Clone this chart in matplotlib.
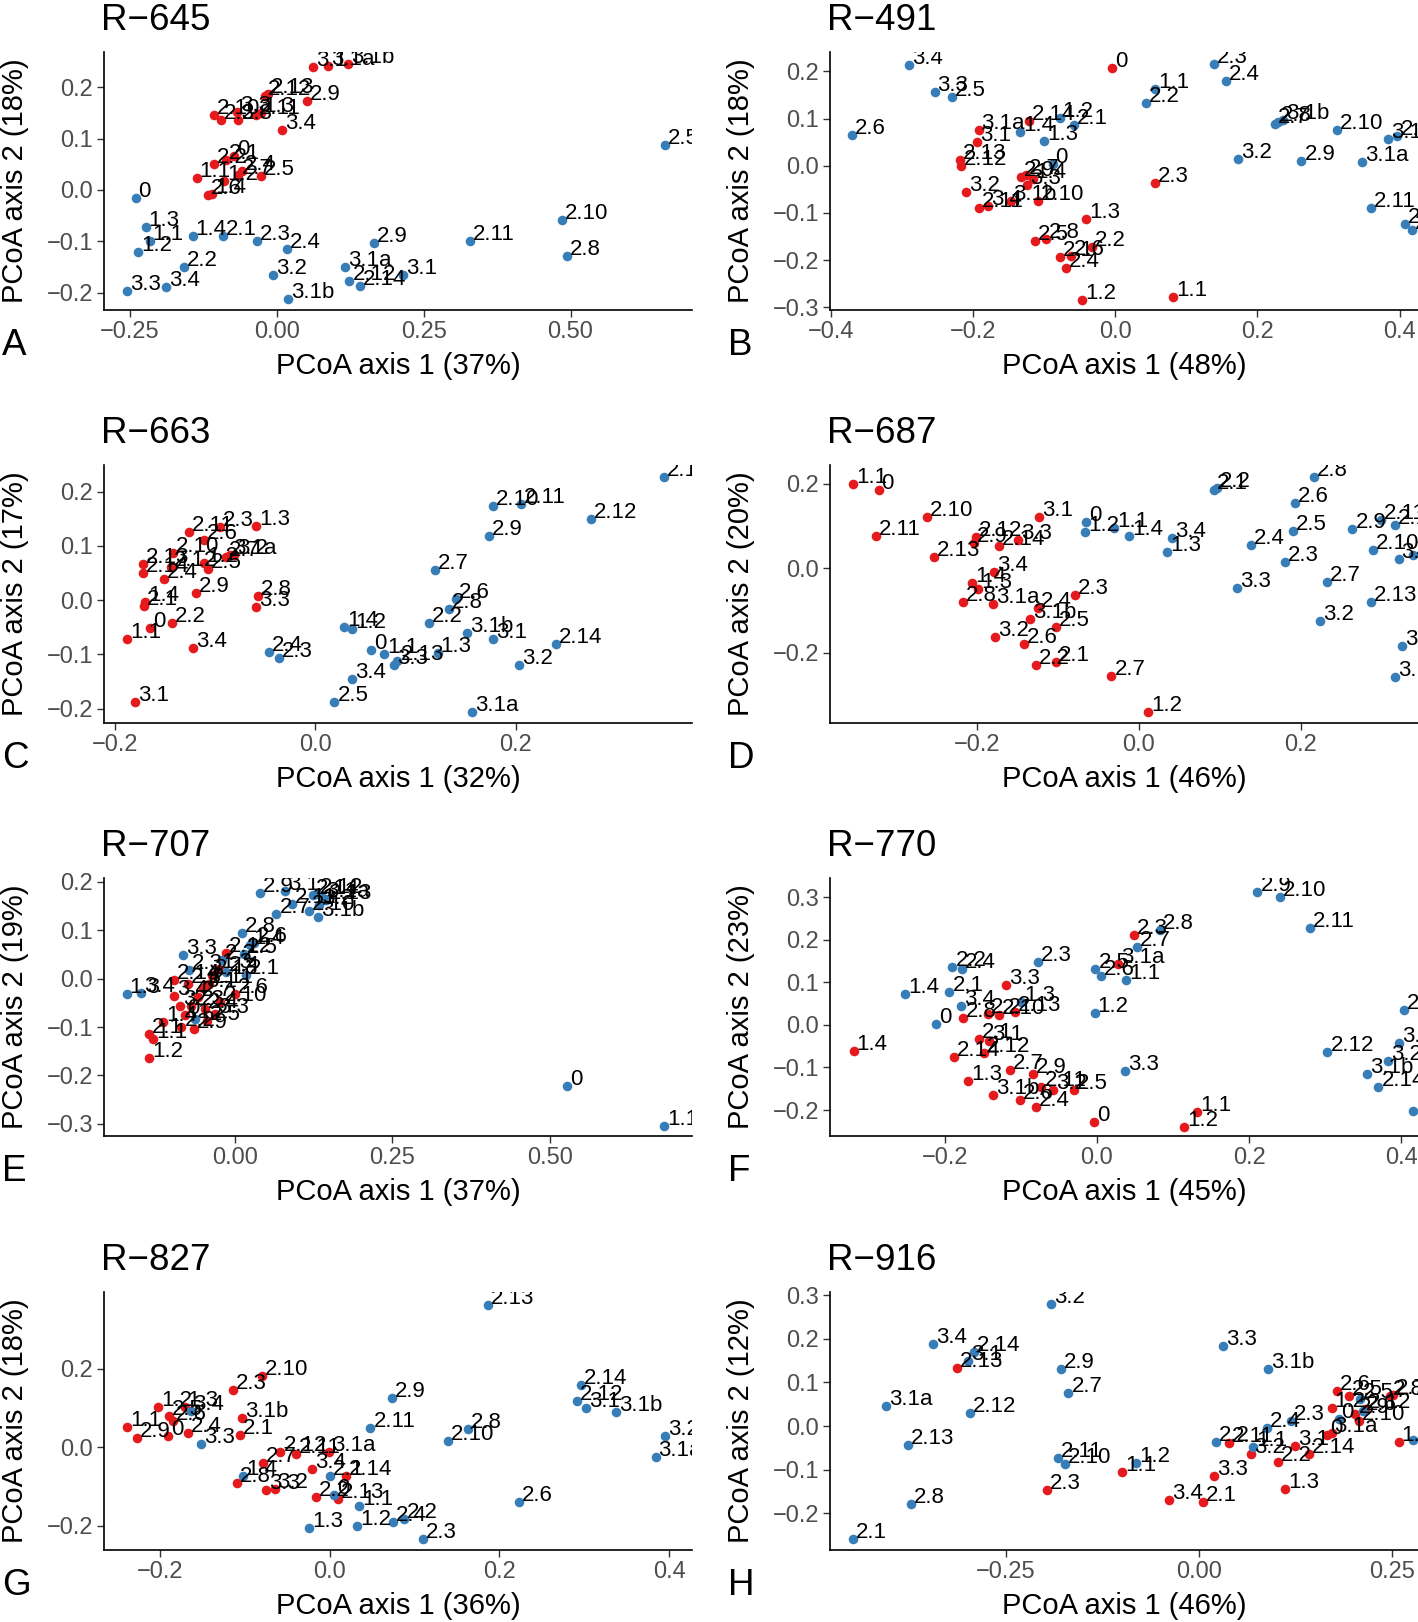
import matplotlib
matplotlib.use("Agg")
import matplotlib.pyplot as plt
from matplotlib.ticker import FixedLocator, FixedFormatter

plt.rcParams['font.family'] = ['Liberation Sans', 'DejaVu Sans']

RED = '#E41A1C'
BLUE = '#377EB8'

# ---------------- Panel A : R-645 ----------------
A_red_lab = ["3.1", "3.1a", "3.1b", "2.12", "2.13", "2.9", "3.4", "2.10", "2.3", "2.8", "3.3", "2.11", "1.3",
             "0", "2.2", "2.1", "1.1", "1.2", "2.4", "2.7", "2.5", "2.6", "1.4"]
A_red_x = [0.062, 0.087, 0.122, -0.020, -0.014, 0.052, 0.010, -0.106, -0.094, -0.065, -0.067, -0.035, -0.027,
           -0.072, -0.106, -0.086, -0.136, -0.089, -0.059, -0.065, -0.027, -0.117, -0.110]
A_red_y = [0.240, 0.242, 0.246, 0.182, 0.187, 0.173, 0.117, 0.145, 0.137, 0.136, 0.151, 0.145, 0.149,
           0.066, 0.051, 0.058, 0.024, 0.017, 0.037, 0.030, 0.028, -0.009, -0.007]
A_blue_lab = ["0", "1.3", "1.1", "1.2", "1.4", "2.1", "2.3", "2.4", "2.2", "3.3", "3.4", "3.2", "3.1b", "2.9",
              "3.1a", "2.12", "2.14", "3.1", "2.11", "2.10", "2.8", "2.5"]
A_blue_x = [-0.240, -0.223, -0.216, -0.235, -0.143, -0.092, -0.034, 0.017, -0.157, -0.255, -0.188, -0.006, 0.020,
            0.166, 0.117, 0.124, 0.142, 0.215, 0.329, 0.486, 0.494, 0.660]
A_blue_y = [-0.015, -0.073, -0.099, -0.121, -0.089, -0.089, -0.100, -0.114, -0.149, -0.196, -0.188, -0.165, -0.212,
            -0.104, -0.149, -0.177, -0.187, -0.165, -0.100, -0.058, -0.129, 0.087]

# ---------------- Panel B : R-491 ----------------
B_red_lab = ["0", "3.1a", "3.1", "2.14", "2.13", "2.12", "2.9", "2.7", "3.3", "1.4", "2.3", "3.2", "2.11", "3.4",
             "3.1b", "2.10", "1.3", "2.5", "2.8", "2.1", "2.6", "2.2", "2.4", "1.2", "1.1"]
B_red_x = [-0.004, -0.192, -0.194, -0.121, -0.218, -0.217, -0.133, -0.125, -0.124, -0.116, 0.056, -0.210, -0.191,
           -0.179, -0.147, -0.109, -0.041, -0.113, -0.097, -0.078, -0.062, -0.032, -0.069, -0.046, 0.082]
B_red_y = [0.208, 0.075, 0.051, 0.095, 0.013, 0.000, -0.023, -0.019, -0.040, -0.028, -0.037, -0.055, -0.090,
           -0.085, -0.075, -0.075, -0.112, -0.159, -0.155, -0.193, -0.191, -0.173, -0.216, -0.285, -0.278]
B_blue_lab = ["3.4", "3.3", "2.5", "2.6", "1.4", "1.2", "2.1", "1.3", "0", "1.1", "2.2", "2.3", "2.4", "2.7",
              "2.8", "3.1b", "2.10", "3.1", "2.14", "3.2", "2.9", "3.1a", "2.11", "2.13", "2.12"]
B_blue_x = [-0.290, -0.254, -0.229, -0.370, -0.134, -0.078, -0.058, -0.100, -0.088, 0.056, 0.043, 0.139, 0.156,
            0.225, 0.229, 0.236, 0.312, 0.384, 0.397, 0.173, 0.262, 0.347, 0.360, 0.408, 0.418]
B_blue_y = [0.214, 0.157, 0.146, 0.066, 0.072, 0.102, 0.086, 0.052, 0.003, 0.163, 0.132, 0.216, 0.179,
            0.089, 0.093, 0.098, 0.075, 0.056, 0.063, 0.015, 0.011, 0.008, -0.090, -0.123, -0.137]

# ---------------- Panel C : R-663 ----------------
C_red_lab = ["1.3", "2.3", "2.11", "2.6", "2.10", "2.7", "3.1a", "3.2", "1.2", "2.5", "2.13", "2.14", "2.12",
             "2.4", "2.9", "2.8", "3.3", "1.4", "2.1", "0", "2.2", "1.1", "3.4", "3.1"]
C_red_x = [-0.059, -0.095, -0.126, -0.111, -0.142, -0.089, -0.085, -0.081, -0.111, -0.107, -0.172, -0.172, -0.144,
           -0.151, -0.119, -0.057, -0.059, -0.170, -0.171, -0.165, -0.143, -0.188, -0.122, -0.180]
C_red_y = [0.137, 0.135, 0.126, 0.110, 0.087, 0.080, 0.083, 0.084, 0.069, 0.058, 0.067, 0.050, 0.061,
           0.039, 0.013, 0.008, -0.012, -0.004, -0.011, -0.052, -0.042, -0.072, -0.089, -0.187]
C_blue_lab = ["2.1", "2.10", "2.11", "2.12", "2.9", "2.7", "2.6", "2.8", "2.2", "3.1b", "3.1", "2.14", "3.2",
              "1.3", "1.4", "1.2", "0", "1.1", "3.3", "2.13", "3.4", "2.5", "3.1a", "2.4", "2.3"]
C_blue_x = [0.348, 0.177, 0.205, 0.275, 0.173, 0.119, 0.140, 0.133, 0.113, 0.151, 0.177, 0.240, 0.203,
            0.122, 0.029, 0.037, 0.056, 0.069, 0.079, 0.082, 0.037, 0.019, 0.156, -0.046, -0.036]
C_blue_y = [0.227, 0.174, 0.177, 0.149, 0.118, 0.055, 0.003, -0.016, -0.043, -0.060, -0.072, -0.080, -0.120,
            -0.098, -0.050, -0.053, -0.092, -0.100, -0.120, -0.112, -0.146, -0.187, -0.207, -0.095, -0.106]

# ---------------- Panel D : R-687 ----------------
D_red_lab = ["1.1", "0", "2.10", "2.11", "3.1", "2.12", "3.3", "2.9", "2.14", "2.13", "3.4", "1.4", "1.3", "2.8",
             "3.1a", "2.3", "2.4", "3.1b", "2.5", "3.2", "2.6", "2.2", "2.1", "2.7", "1.2"]
D_red_x = [-0.353, -0.322, -0.262, -0.325, -0.123, -0.202, -0.150, -0.204, -0.173, -0.254, -0.179, -0.206, -0.199,
           -0.218, -0.180, -0.079, -0.125, -0.135, -0.103, -0.178, -0.142, -0.127, -0.103, -0.034, 0.011]
D_red_y = [0.199, 0.185, 0.121, 0.075, 0.120, 0.074, 0.066, 0.060, 0.052, 0.026, -0.008, -0.035, -0.049,
           -0.081, -0.085, -0.063, -0.093, -0.119, -0.138, -0.162, -0.180, -0.230, -0.222, -0.255, -0.341]
D_blue_lab = ["0", "1.2", "1.1", "1.4", "3.4", "1.3", "2.1", "2.2", "2.8", "2.6", "2.5", "2.4", "2.3", "3.3",
              "2.7", "2.9", "2.11", "2.12", "2.10", "3.1", "2.14", "2.13", "3.2", "3.1b", "3.1a"]
D_blue_x = [-0.065, -0.067, -0.031, -0.012, 0.041, 0.035, 0.093, 0.096, 0.216, 0.193, 0.190, 0.138, 0.181, 0.121,
            0.232, 0.264, 0.299, 0.317, 0.289, 0.321, 0.339, 0.287, 0.224, 0.325, 0.317]
D_blue_y = [0.109, 0.086, 0.095, 0.075, 0.071, 0.038, 0.185, 0.190, 0.216, 0.155, 0.089, 0.054, 0.014, -0.047,
            -0.032, 0.092, 0.113, 0.103, 0.042, 0.022, 0.032, -0.081, -0.124, -0.185, -0.257]

# ---------------- Panel E : R-707 ----------------
E_red_lab = ["1.2", "2.1", "1.1", "1.4", "2.2", "2.9", "2.5", "3.3", "3.4", "2.14", "3.2", "2.3", "2.7", "2.4",
             "2.6", "2.12", "2.13", "1.3", "2.11", "2.10", "0", "3.1", "2.8"]
E_red_x = [-0.136, -0.136, -0.130, -0.114, -0.085, -0.065, -0.044, -0.031, -0.097, -0.097, -0.087, -0.070, -0.058,
           -0.048, 0.000, -0.014, -0.036, -0.026, -0.042, -0.023, -0.080, -0.050, -0.075]
E_red_y = [-0.164, -0.115, -0.124, -0.090, -0.099, -0.104, -0.087, -0.073, -0.035, -0.002, -0.056, -0.056, -0.038,
           -0.062, -0.031, 0.053, 0.007, 0.021, -0.010, -0.049, -0.076, -0.020, -0.010]
E_blue_lab = ["1.1", "0", "1.3", "3.4", "3.3", "2.9", "3.1", "2.11", "2.10", "3.1b", "2.14", "2.12", "3.1a",
              "2.13", "3.2", "2.7", "2.8", "2.6", "1.4", "2.5", "2.2", "2.4", "2.1", "2.3", "1.2"]
E_blue_x = [0.682, 0.527, -0.172, -0.149, -0.082, 0.040, 0.079, 0.090, 0.118, 0.132, 0.124, 0.130, 0.140,
            0.145, 0.133, 0.066, 0.011, 0.030, 0.024, 0.014, -0.020, -0.014, 0.018, -0.073, -0.064]
E_blue_y = [-0.304, -0.222, -0.031, -0.029, 0.049, 0.178, 0.182, 0.154, 0.139, 0.128, 0.172, 0.175, 0.167,
            0.163, 0.153, 0.133, 0.094, 0.073, 0.069, 0.050, 0.038, 0.014, 0.007, 0.017, -0.083]

# ---------------- Panel F : R-770 ----------------
F_red_lab = ["2.3", "3.1a", "3.3", "1.4", "2.8", "2.2", "2.10", "2.13", "2.1", "3.1", "2.14", "2.12", "1.3", "2.7",
             "2.9", "3.1b", "2.11", "3.2", "2.5", "2.6", "2.4", "0", "1.1", "1.2"]
F_red_x = [0.049, 0.028, -0.120, -0.320, -0.176, -0.143, -0.129, -0.108, -0.155, -0.142, -0.188, -0.149, -0.169,
           -0.114, -0.084, -0.137, -0.073, -0.058, -0.030, -0.101, -0.080, -0.004, 0.132, 0.115]
F_red_y = [0.212, 0.144, 0.094, -0.061, 0.017, 0.026, 0.024, 0.030, -0.033, -0.039, -0.076, -0.065, -0.131,
           -0.105, -0.116, -0.165, -0.145, -0.153, -0.153, -0.176, -0.194, -0.228, -0.204, -0.240]
F_blue_lab = ["2.9", "2.10", "2.11", "2.8", "2.7", "2.3", "2.2", "2.4", "2.5", "2.6", "1.1", "1.4", "2.1", "3.4",
              "1.3", "0", "1.2", "3.3", "2.13", "3.1a", "2.12", "3.2", "3.1b", "2.14", "3.1"]
F_blue_x = [0.211, 0.241, 0.280, 0.083, 0.053, -0.078, -0.190, -0.177, -0.002, 0.005, 0.038, -0.252, -0.194,
            -0.179, -0.100, -0.212, -0.003, 0.037, 0.403, 0.397, 0.303, 0.383, 0.355, 0.370, 0.415]
F_blue_y = [0.313, 0.301, 0.227, 0.223, 0.182, 0.148, 0.136, 0.131, 0.132, 0.114, 0.105, 0.073, 0.077, 0.044,
            0.054, 0.001, 0.028, -0.109, 0.035, -0.043, -0.063, -0.084, -0.116, -0.147, -0.202]

# ---------------- Panel G : R-827 ----------------
G_red_lab = ["1.1", "2.9", "0", "1.2", "1.3", "2.5", "2.6", "2.4", "2.10", "2.3", "3.1b", "2.1", "2.12", "2.11",
             "3.1a", "2.7", "3.4", "2.14", "2.8", "3.3", "3.2", "2.2", "2.13"]
G_red_x = [-0.239, -0.227, -0.190, -0.202, -0.171, -0.189, -0.185, -0.167, -0.080, -0.114, -0.103, -0.106, -0.058,
           -0.040, -0.001, -0.079, -0.021, 0.019, -0.109, -0.075, -0.065, -0.016, 0.010]
G_red_y = [0.051, 0.024, 0.028, 0.103, 0.103, 0.080, 0.067, 0.037, 0.182, 0.146, 0.074, 0.031, -0.012,
           -0.017, -0.012, -0.040, -0.055, -0.072, -0.091, -0.110, -0.106, -0.126, -0.132]
G_blue_lab = ["2.13", "2.14", "2.12", "3.1", "3.1b", "3.2", "3.1a", "2.9", "2.11", "2.8", "2.10", "2.6", "2.3",
              "2.4", "2.2", "1.2", "1.3", "1.1", "0", "2.1", "3.3", "1.4", "3.4"]
G_blue_x = [0.187, 0.296, 0.291, 0.302, 0.337, 0.395, 0.384, 0.073, 0.048, 0.163, 0.139, 0.223, 0.110,
            0.075, 0.087, 0.032, -0.024, 0.035, 0.005, 0.000, -0.152, -0.102, -0.164]
G_blue_y = [0.364, 0.158, 0.118, 0.101, 0.090, 0.030, -0.025, 0.125, 0.050, 0.047, 0.015, -0.140, -0.235,
            -0.190, -0.183, -0.201, -0.205, -0.149, -0.121, -0.072, 0.009, -0.073, 0.092]

# ---------------- Panel H : R-916 ----------------
H_red_lab = ["2.13", "2.3", "1.1", "3.4", "2.1", "3.3", "1.3", "3.2", "2.2", "2.14", "3.1", "2.11", "0", "3.1a",
             "1.2", "2.6", "2.5", "2.9", "2.10", "2.12", "2.8", "2.7", "1.4"]
H_red_x = [-0.314, -0.197, -0.099, -0.039, 0.005, 0.020, 0.112, 0.068, 0.102, 0.143, 0.125, 0.039, 0.166, 0.172,
           0.172, 0.179, 0.194, 0.203, 0.207, 0.215, 0.248, 0.252, 0.259]
H_red_y = [0.133, -0.148, -0.105, -0.171, -0.175, -0.114, -0.144, -0.065, -0.083, -0.065, -0.045, -0.040, -0.021,
           -0.015, 0.042, 0.081, 0.069, 0.027, 0.012, 0.040, 0.069, 0.072, -0.037]
H_blue_lab = ["3.2", "3.4", "2.14", "3.1", "2.9", "2.7", "3.1a", "2.12", "2.13", "2.11", "2.10", "2.8", "2.1",
              "3.3", "3.1b", "1.2", "2.2", "2.4", "1.1", "2.3", "0", "2.5", "2.6", "1.4"]
H_blue_x = [-0.192, -0.344, -0.291, -0.299, -0.179, -0.169, -0.405, -0.297, -0.377, -0.183, -0.174, -0.373, -0.448,
            0.031, 0.090, -0.081, 0.022, 0.088, 0.070, 0.119, 0.181, 0.209, 0.213, 0.277]
H_blue_y = [0.281, 0.188, 0.169, 0.150, 0.131, 0.075, 0.046, 0.029, -0.044, -0.073, -0.087, -0.179, -0.260,
            0.183, 0.131, -0.085, -0.037, -0.004, -0.048, 0.012, 0.015, 0.062, 0.035, -0.032]

# ---------------- panel meta ----------------
titles = ["R\u2212645", "R\u2212491", "R\u2212663", "R\u2212687", "R\u2212707", "R\u2212770", "R\u2212827", "R\u2212916"]
letters = ["A", "B", "C", "D", "E", "F", "G", "H"]
x_pct = [37, 48, 32, 46, 37, 45, 36, 46]
y_pct = [18, 18, 17, 20, 19, 23, 18, 12]

x_ticks = [[-0.25, 0.0, 0.25, 0.5], [-0.4, -0.2, 0.0, 0.2, 0.4], [-0.2, 0.0, 0.2], [-0.2, 0.0, 0.2],
           [0.0, 0.25, 0.5], [-0.2, 0.0, 0.2, 0.4], [-0.2, 0.0, 0.2, 0.4], [-0.25, 0.0, 0.25]]
x_tick_labels = [["\u22120.25", "0.00", "0.25", "0.50"], ["\u22120.4", "\u22120.2", "0.0", "0.2", "0.4"],
                 ["\u22120.2", "0.0", "0.2"], ["\u22120.2", "0.0", "0.2"], ["0.00", "0.25", "0.50"],
                 ["\u22120.2", "0.0", "0.2", "0.4"], ["\u22120.2", "0.0", "0.2", "0.4"],
                 ["\u22120.25", "0.00", "0.25"]]
y_ticks = [[-0.2, -0.1, 0.0, 0.1, 0.2], [-0.3, -0.2, -0.1, 0.0, 0.1, 0.2], [-0.2, -0.1, 0.0, 0.1, 0.2],
           [-0.2, 0.0, 0.2], [-0.3, -0.2, -0.1, 0.0, 0.1, 0.2], [-0.2, -0.1, 0.0, 0.1, 0.2, 0.3],
           [-0.2, 0.0, 0.2], [-0.2, -0.1, 0.0, 0.1, 0.2, 0.3]]
x_lims = [(-0.2936, 0.7066), (-0.401, 0.426), (-0.211, 0.376), (-0.382, 0.345),
          (-0.208, 0.726), (-0.351, 0.422), (-0.266, 0.427), (-0.478, 0.284)]
y_lims = [(-0.2336, 0.2685), (-0.3055, 0.241), (-0.2264, 0.249), (-0.366, 0.244),
          (-0.325, 0.208), (-0.261, 0.345), (-0.262, 0.396), (-0.285, 0.308)]

panels = [
    (A_red_lab, A_red_x, A_red_y, A_blue_lab, A_blue_x, A_blue_y),
    (B_red_lab, B_red_x, B_red_y, B_blue_lab, B_blue_x, B_blue_y),
    (C_red_lab, C_red_x, C_red_y, C_blue_lab, C_blue_x, C_blue_y),
    (D_red_lab, D_red_x, D_red_y, D_blue_lab, D_blue_x, D_blue_y),
    (E_red_lab, E_red_x, E_red_y, E_blue_lab, E_blue_x, E_blue_y),
    (F_red_lab, F_red_x, F_red_y, F_blue_lab, F_blue_x, F_blue_y),
    (G_red_lab, G_red_x, G_red_y, G_blue_lab, G_blue_x, G_blue_y),
    (H_red_lab, H_red_x, H_red_y, H_blue_lab, H_blue_x, H_blue_y),
]

def ylab_fmt(v):
    s = f"{v:.1f}"
    return s.replace("-", "\u2212")

W, H = 1418, 1622
fig = plt.figure(figsize=(W / 100, H / 100), dpi=100)
fig.patch.set_facecolor('white')

col_left = [104, 830]
row_top = [52, 465, 878, 1292]
ax_w, ax_h = 588, 258

TICK_FS = 17
LAB_FS = 16
AXT_FS = 21
TITLE_FS = 26.5

for i, (rl, rx, ry, bl, bx, by) in enumerate(panels):
    r, c = divmod(i, 2)
    L = col_left[c]
    T = row_top[r]
    ax = fig.add_axes([L / W, 1 - (T + ax_h) / H, ax_w / W, ax_h / H])
    ax.set_xlim(*x_lims[i])
    ax.set_ylim(*y_lims[i])
    for sp in ['top', 'right']:
        ax.spines[sp].set_visible(False)
    for sp in ['left', 'bottom']:
        ax.spines[sp].set_linewidth(1.2)
        ax.spines[sp].set_color('black')
    ax.xaxis.set_major_locator(FixedLocator(x_ticks[i]))
    ax.xaxis.set_major_formatter(FixedFormatter(x_tick_labels[i]))
    ax.yaxis.set_major_locator(FixedLocator(y_ticks[i]))
    ax.yaxis.set_major_formatter(FixedFormatter([ylab_fmt(v) for v in y_ticks[i]]))
    ax.tick_params(axis='both', direction='out', length=5, width=1.0, color='#333333',
                   labelsize=TICK_FS, labelcolor='#4D4D4D', pad=3)

    ax.scatter(rx, ry, s=48, color=RED, linewidths=0, zorder=3)
    ax.scatter(bx, by, s=48, color=BLUE, linewidths=0, zorder=3)
    for labs, xs, ys in ((rl, rx, ry), (bl, bx, by)):
        for lab, xv, yv in zip(labs, xs, ys):
            ax.annotate(lab, (xv, yv), xytext=(3, 1), textcoords='offset pixels',
                        ha='left', va='baseline', fontsize=LAB_FS, color='black',
                        annotation_clip=False, clip_on=True, zorder=4)

    ax.annotate(titles[i], xy=(0, 1), xycoords='axes fraction', xytext=(-3, 22),
                textcoords='offset pixels', ha='left', va='baseline', fontsize=TITLE_FS)
    ax.annotate(letters[i], xy=(0, 0), xycoords='axes fraction', xytext=(-102, -45),
                textcoords='offset pixels', ha='left', va='baseline', fontsize=TITLE_FS)
    ax.annotate(f"PCoA axis 1 ({x_pct[i]}%)", xy=(0.5, 0), xycoords='axes fraction', xytext=(0, -64),
                textcoords='offset pixels', ha='center', va='baseline', fontsize=AXT_FS)
    ax.annotate(f"PCoA axis 2 ({y_pct[i]}%)", xy=(0, 0.5), xycoords='axes fraction', xytext=(-81, 0),
                textcoords='offset pixels', ha='center', va='baseline', fontsize=AXT_FS,
                rotation=90, rotation_mode='anchor')

fig.savefig("out.png", dpi=100)
